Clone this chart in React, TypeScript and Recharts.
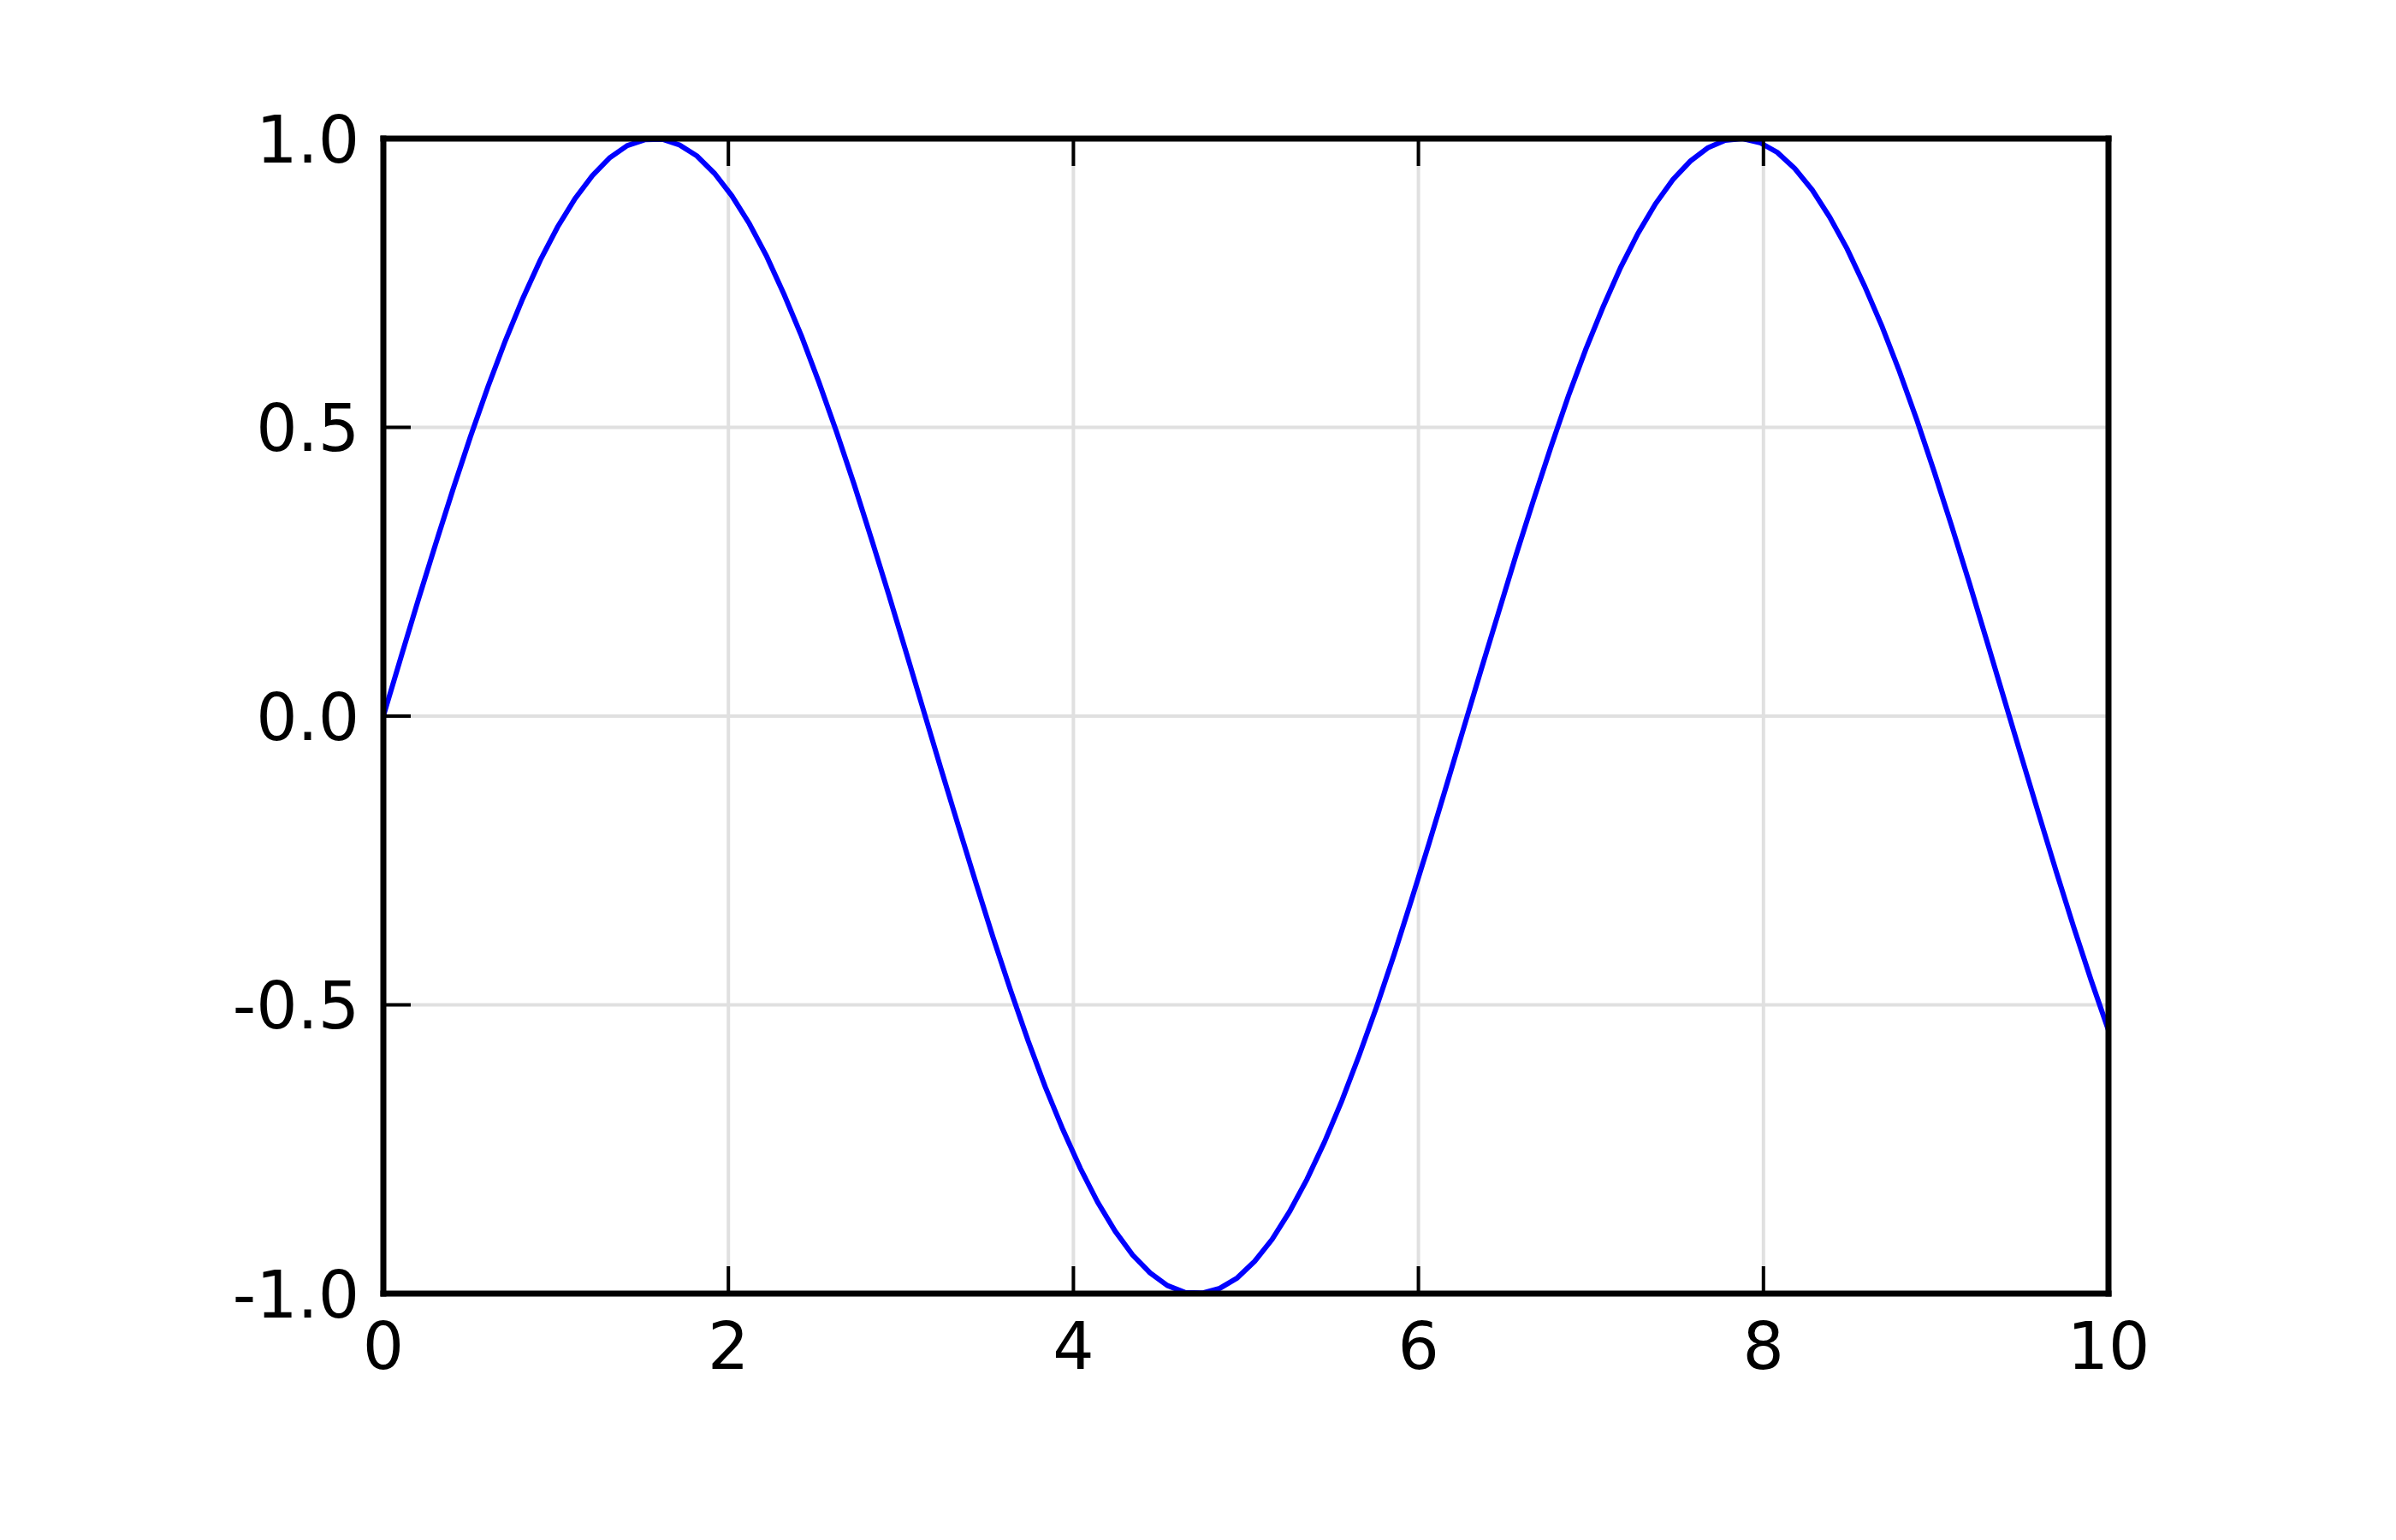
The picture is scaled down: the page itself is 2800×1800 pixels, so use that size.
import React from "react";
import { LineChart, Line, XAxis, YAxis, CartesianGrid } from "recharts";

const xValues = [
  0.0, 0.101, 0.202, 0.303, 0.404, 0.505, 0.606, 0.707, 0.808, 0.909,
  1.01, 1.111, 1.212, 1.313, 1.414, 1.515, 1.616, 1.717, 1.818, 1.919,
  2.02, 2.121, 2.222, 2.323, 2.424, 2.525, 2.626, 2.727, 2.828, 2.929,
  3.03, 3.131, 3.232, 3.333, 3.434, 3.535, 3.636, 3.737, 3.838, 3.939,
  4.04, 4.141, 4.242, 4.343, 4.444, 4.545, 4.646, 4.747, 4.848, 4.949,
  5.051, 5.152, 5.253, 5.354, 5.455, 5.556, 5.657, 5.758, 5.859, 5.96,
  6.061, 6.162, 6.263, 6.364, 6.465, 6.566, 6.667, 6.768, 6.869, 6.97,
  7.071, 7.172, 7.273, 7.374, 7.475, 7.576, 7.677, 7.778, 7.879, 7.98,
  8.081, 8.182, 8.283, 8.384, 8.485, 8.586, 8.687, 8.788, 8.889, 8.99,
  9.091, 9.192, 9.293, 9.394, 9.495, 9.596, 9.697, 9.798, 9.899, 10.0,
];

const yValues = [
  0.0, 0.101, 0.201, 0.298, 0.393, 0.484, 0.57, 0.65, 0.723, 0.789,
  0.847, 0.896, 0.936, 0.967, 0.988, 0.998, 0.999, 0.989, 0.97, 0.94,
  0.901, 0.853, 0.796, 0.73, 0.658, 0.578, 0.493, 0.403, 0.308, 0.211,
  0.111, 0.01, -0.091, -0.19, -0.288, -0.384, -0.475, -0.562, -0.643, -0.716,
  -0.783, -0.842, -0.892, -0.933, -0.964, -0.986, -0.998, -0.999, -0.991, -0.973,
  -0.944, -0.906, -0.858, -0.802, -0.738, -0.666, -0.587, -0.503, -0.413, -0.318,
  -0.221, -0.121, -0.02, 0.081, 0.18, 0.279, 0.374, 0.466, 0.554, 0.635,
  0.709, 0.777, 0.836, 0.887, 0.929, 0.961, 0.984, 0.997, 1.0, 0.993,
  0.976, 0.948, 0.911, 0.864, 0.809, 0.745, 0.675, 0.597, 0.513, 0.423,
  0.329, 0.232, 0.132, 0.031, -0.07, -0.17, -0.269, -0.365, -0.457, -0.544,
];

const xTicks = [0, 2, 4, 6, 8, 10];
const yTicks = [-1.0, -0.5, 0.0, 0.5, 1.0];

const data = xValues.map((x, i) => ({ x, y: yValues[i] }));

const FONT = "'DejaVu Sans', sans-serif";
const TICK_LEN = 32;

const BottomTick = (props: any) => {
  const { x, y, payload } = props;
  return (
    <g>
      <line x1={x} y1={y} x2={x} y2={y - TICK_LEN} stroke="#000" strokeWidth={4} />
      <text x={x} y={y + 33} dy="0.73em" textAnchor="middle" fontFamily={FONT} fontSize={76} fill="#000">
        {payload.value}
      </text>
    </g>
  );
};

const TopTick = (props: any) => {
  const { x, y } = props;
  return <line x1={x} y1={y} x2={x} y2={y + TICK_LEN} stroke="#000" strokeWidth={4} />;
};

const LeftTick = (props: any) => {
  const { x, y, payload } = props;
  return (
    <g>
      <line x1={x} y1={y} x2={x + TICK_LEN} y2={y} stroke="#000" strokeWidth={4} />
      <text x={x - 28} y={y} dy="0.365em" textAnchor="end" fontFamily={FONT} fontSize={76} fill="#000">
        {Number(payload.value).toFixed(1)}
      </text>
    </g>
  );
};

const RightTick = (props: any) => {
  const { x, y } = props;
  return <line x1={x} y1={y} x2={x - TICK_LEN} y2={y} stroke="#000" strokeWidth={4} />;
};

const frame = { stroke: "#000", strokeWidth: 7, strokeLinecap: "square" as const };

export default function App() {
  return (
    <div style={{ position: "absolute", left: 0, top: 0, width: 2800, height: 1800, background: "#fff" }}>
      <LineChart width={2800} height={1800} data={data} margin={{ top: 62, right: 236, bottom: 188, left: 248 }}>
        <CartesianGrid xAxisId="bottom" yAxisId="left" stroke="#e0e0e0" strokeWidth={4} />
        <XAxis
          xAxisId="bottom"
          dataKey="x"
          type="number"
          domain={[0, 10]}
          ticks={xTicks}
          height={100}
          tickSize={0}
          tickMargin={0}
          axisLine={frame}
          tickLine={false}
          tick={<BottomTick />}
          interval={0}
        />
        <XAxis
          xAxisId="top"
          orientation="top"
          dataKey="x"
          type="number"
          domain={[0, 10]}
          ticks={xTicks}
          height={100}
          tickSize={0}
          tickMargin={0}
          axisLine={frame}
          tickLine={false}
          tick={<TopTick />}
          interval={0}
        />
        <YAxis
          yAxisId="left"
          type="number"
          domain={[-1, 1]}
          ticks={yTicks}
          width={200}
          tickSize={0}
          tickMargin={0}
          axisLine={frame}
          tickLine={false}
          tick={<LeftTick />}
          interval={0}
        />
        <YAxis
          yAxisId="right"
          orientation="right"
          type="number"
          domain={[-1, 1]}
          ticks={yTicks}
          width={100}
          tickSize={0}
          tickMargin={0}
          axisLine={frame}
          tickLine={false}
          tick={<RightTick />}
          interval={0}
        />
        <Line
          xAxisId="bottom"
          yAxisId="left"
          dataKey="y"
          type="linear"
          stroke="#0000ff"
          strokeWidth={6}
          dot={false}
          isAnimationActive={false}
        />
      </LineChart>
    </div>
  );
}
